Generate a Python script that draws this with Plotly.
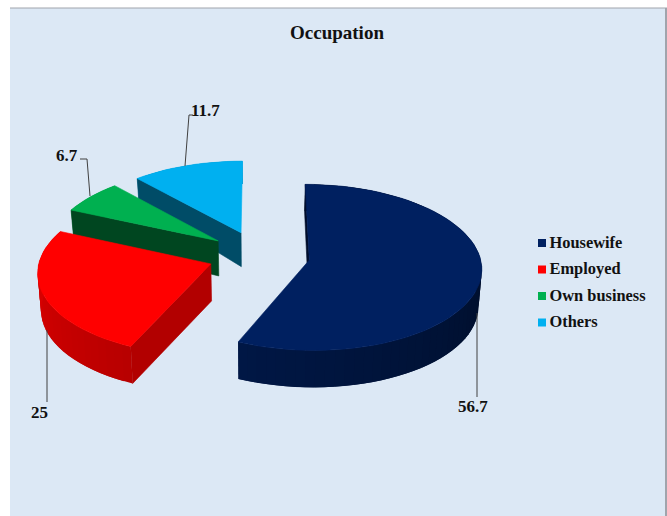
import math
import plotly.graph_objects as go

# Occupation shares (percent)
categories = ["Housewife", "Employed", "Own business", "Others"]
values = [56.7, 25, 6.7, 11.7]
value_labels = ["56.7", "25", "6.7", "11.7"]
colors = [(0, 32, 96), (255, 0, 0), (0, 176, 80), (0, 176, 240)]

# Brightness of the flat cut faces of each wedge
cut_shade = [0.45, 0.70, 0.40, 0.43]

W, H = 667, 516
FONT = "Liberation Serif"
INK = "#111111"

# Oblique view of the pie in pixel space
CX, CY = 259, 255
RX, RY = 170.5, 81.5
PERSPECTIVE = 0.087
EXPLODE = 0.30
STEP_DEG = 3


def project(x, y, lower=False):
    """Map a point on the pie plane to the page, optionally on the underside."""
    s = 1 / (1 + PERSPECTIVE * y)
    px = CX + RX * x * s
    py = CY - RY * y * s
    if lower:
        px = CX + (px - CX) * 0.985
        py += 37 - 11 * max(0.0, y)
    return px, py


def rgb(color, k=1.0):
    return "rgb({},{},{})".format(*[round(c * k) for c in color])


def rim_shade(deg):
    """Side lighting along the curved wall, brighter towards the left."""
    if deg <= 204:
        return 0.45 + (deg - 90) / 114 * 0.27
    return 0.72 + (min(deg, 270) - 204) / 66 * 0.13


def add_poly(fig, points, color, edge=0.6):
    fig.add_trace(go.Scatter(
        x=[p[0] for p in points] + [points[0][0]],
        y=[p[1] for p in points] + [points[0][1]],
        mode="lines", fill="toself", fillcolor=color,
        line=dict(color=color, width=edge),
        hoverinfo="skip", showlegend=False,
    ))


def add_wedge(fig, start, sweep, color, shade):
    mid = math.radians(start + sweep / 2)
    ox, oy = EXPLODE * math.sin(mid), EXPLODE * math.cos(mid)
    n = max(2, int(sweep / STEP_DEG))
    angles = [start + sweep * i / n for i in range(n + 1)]
    rim = [(ox + math.sin(math.radians(a)), oy + math.cos(math.radians(a))) for a in angles]

    # Curved wall first, each strip lapping under the next to hide seams
    for i in range(n):
        a = (angles[i] + angles[i + 1]) / 2
        j = min(i + 2, n)
        strip = [project(*rim[k]) for k in range(i, j + 1)]
        strip += [project(*rim[k], lower=True) for k in range(j, i - 1, -1)]
        add_poly(fig, strip, rgb(color, rim_shade(a)), edge=0)
    # Only the cut faces turned towards the viewer are painted
    faces = []
    if math.sin(math.radians(start)) <= 1e-9:
        faces.append(rim[0])
    if math.sin(math.radians(start + sweep)) >= 1e-9:
        faces.append(rim[-1])
    for edge in faces:
        add_poly(fig, [project(ox, oy), project(*edge),
                       project(*edge, lower=True), project(ox, oy, lower=True)],
                 rgb(color, shade))
    add_poly(fig, [project(ox, oy)] + [project(*p) for p in rim], rgb(color))


fig = go.Figure()

total = sum(values)
spans = []
start = 0.0
for v in values:
    sweep = v / total * 360
    spans.append((start, sweep))
    start += sweep

# Back wedges are painted first so the nearer ones overlap them
for i in [3, 2, 1, 0]:
    add_wedge(fig, spans[i][0], spans[i][1], colors[i], cut_shade[i])

# Key beside the pie
key_y = [243, 269.5, 296, 322.5]
for name, col, y in zip(categories, colors, key_y):
    fig.add_trace(go.Scatter(
        x=[542], y=[y], mode="markers",
        marker=dict(symbol="square", size=8, color=rgb(col)),
        name=name, showlegend=False, hoverinfo="skip",
    ))
    fig.add_trace(go.Scatter(
        x=[549.5], y=[y + 0.5], mode="text",
        text=[name], textposition="middle right",
        textfont=dict(family=FONT, size=16.4, color=INK, weight="bold"),
        showlegend=False, hoverinfo="skip",
    ))

# Leader lines and value labels
leaders = [
    ([477, 477], [313, 397], (473, 406)),
    ([47, 47], [330, 402], (39, 412)),
    ([90, 87, 80], [196, 159, 159], (67, 155)),
    ([185, 189, 193], [166, 115, 115], (205, 110)),
]
for label, (lx, ly, pos) in zip(value_labels, leaders):
    fig.add_trace(go.Scatter(
        x=lx, y=ly, mode="lines", line=dict(color="#404040", width=1),
        hoverinfo="skip", showlegend=False,
    ))
    fig.add_annotation(
        x=pos[0], y=pos[1], text=label, showarrow=False,
        font=dict(family=FONT, size=17, color=INK, weight="bold"),
    )

fig.update_layout(
    width=W, height=H,
    margin=dict(l=0, r=0, t=0, b=0),
    paper_bgcolor="white", plot_bgcolor="rgba(0,0,0,0)",
    showlegend=False,
    title=dict(
        text="<b>Occupation</b>", x=337 / W, y=1 - 32 / H,
        xanchor="center", yanchor="middle",
        font=dict(family=FONT, size=19, color=INK),
    ),
    xaxis=dict(range=[0, W], visible=False, fixedrange=True),
    yaxis=dict(range=[H, 0], visible=False, fixedrange=True),
    shapes=[
        dict(type="rect", layer="below", x0=10, x1=665, y0=8, y1=H,
             fillcolor="#DCE8F5", line=dict(width=0)),
        dict(type="line", layer="below", x0=10, x1=W, y0=8, y1=8,
             line=dict(color="#A0A4AC", width=1)),
        dict(type="rect", layer="below", x0=665, x1=W, y0=8, y1=H,
             fillcolor="#A0A4AC", line=dict(width=0)),
    ],
)

fig.write_html("out.html", config=dict(displayModeBar=False))
